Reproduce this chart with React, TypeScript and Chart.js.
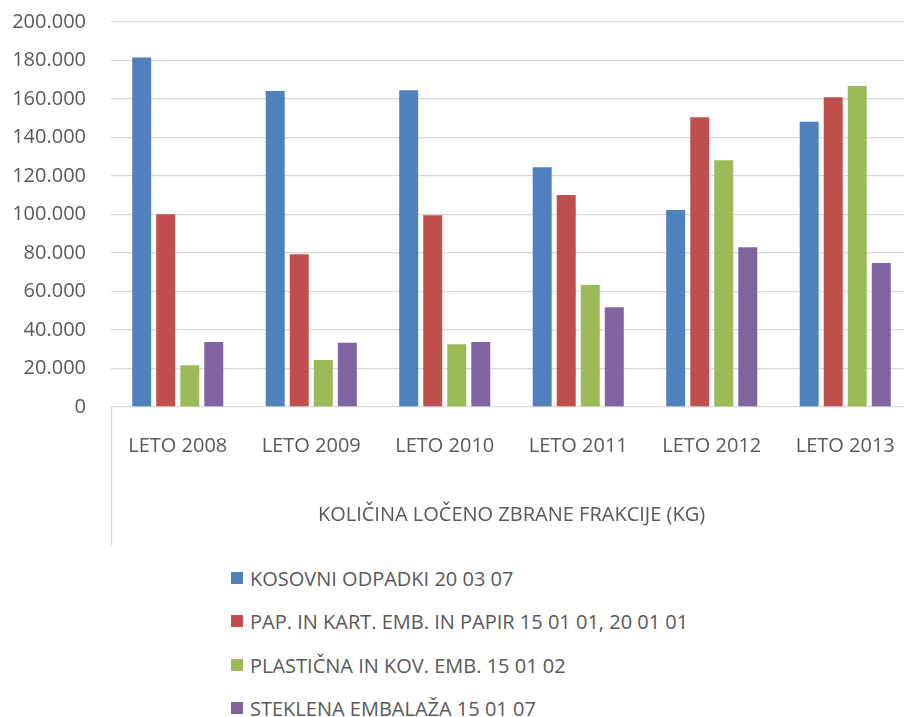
import React, { useEffect, useRef } from "react";
import { Chart, registerables } from "chart.js";

Chart.register(...registerables);

const categories = ["LETO 2008", "LETO 2009", "LETO 2010", "LETO 2011", "LETO 2012", "LETO 2013"];
const seriesNames = [
  "KOSOVNI ODPADKI 20 03 07",
  "PAP. IN KART. EMB. IN PAPIR 15 01 01, 20 01 01",
  "PLASTIČNA IN KOV. EMB. 15 01 02",
  "STEKLENA EMBALAŽA 15 01 07",
];
const kosovniOdpadki = [181500, 164200, 164500, 124500, 102300, 148200];
const papirKarton = [100100, 79300, 99600, 110100, 150500, 160900];
const plasticnaKovinska = [21700, 24400, 32600, 63400, 128200, 166800];
const steklenaEmbalaza = [33800, 33400, 33800, 51800, 83000, 74800];
const seriesColors = ["#4F81BD", "#C0504D", "#9BBB59", "#8064A2"];
const axisTitle = "KOLIČINA LOČENO ZBRANE FRAKCIJE (KG)";
const yMin = 0;
const yMax = 200000;
const yStep = 20000;

const FONT = "'Open Sans', sans-serif";
const FS = 20;
const TEXT = "#595959";

function fmt(v: number): string {
  return String(Math.round(v)).replace(/\B(?=(\d{3})+(?!\d))/g, ".");
}

const leftLinePlugin = {
  id: "leftLine",
  afterDraw(chart: any) {
    const x = chart.scales.x;
    const ctx = chart.ctx;
    ctx.save();
    ctx.strokeStyle = "#d9d9d9";
    ctx.lineWidth = 1.3;
    ctx.beginPath();
    ctx.moveTo(x.left + 0.5, chart.chartArea.bottom);
    ctx.lineTo(x.left + 0.5, x.bottom);
    ctx.stroke();
    ctx.restore();
  },
};

export default function App() {
  const ref = useRef<HTMLCanvasElement | null>(null);

  useEffect(() => {
    let chart: Chart | null = null;
    let cancelled = false;
    const make = () => {
      if (cancelled || !ref.current) return;
      const all = [kosovniOdpadki, papirKarton, plasticnaKovinska, steklenaEmbalaza];
      chart = new Chart(ref.current, {
        type: "bar",
        data: {
          labels: categories,
          datasets: all.map((d, i) => ({
            label: seriesNames[i],
            data: d,
            backgroundColor: seriesColors[i],
            borderWidth: 0,
            categoryPercentage: 0.72,
            barPercentage: 0.79,
          })),
        },
        options: {
          responsive: false,
          animation: false,
          devicePixelRatio: 1,
          layout: { padding: { top: 22, left: 0, right: 0, bottom: 0 } },
          plugins: {
            legend: { display: false },
            tooltip: { enabled: false },
          },
          scales: {
            x: {
              grid: { display: false },
              border: { display: false },
              ticks: {
                color: TEXT,
                font: { family: FONT, size: FS },
                padding: 19,
                maxRotation: 0,
                autoSkip: false,
              },
              title: {
                display: true,
                text: axisTitle,
                color: TEXT,
                font: { family: FONT, size: FS },
                padding: { top: 0, bottom: 18 },
              },
              afterFit(scale: any) {
                scale.height = 138;
                scale.paddingLeft = 0;
                scale.paddingRight = 0;
              },
            },
            y: {
              min: yMin,
              max: yMax,
              grid: { color: "#d9d9d9", lineWidth: 1.3, drawTicks: false },
              border: { display: false },
              ticks: {
                stepSize: yStep,
                color: TEXT,
                font: { family: FONT, size: FS },
                padding: 25,
                callback: (v: any) => fmt(Number(v)),
              },
              afterFit(scale: any) {
                scale.width = 111;
                scale.paddingTop = 0;
                scale.paddingBottom = 0;
              },
            },
          },
        },
        plugins: [leftLinePlugin],
      });
    };
    const fonts: any = (document as any).fonts;
    if (fonts && fonts.load) {
      fonts.load(FS + "px 'Open Sans'").then(make, make);
    } else {
      make();
    }
    return () => {
      cancelled = true;
      if (chart) chart.destroy();
    };
  }, []);

  const legendTops = [578, 621, 665, 708];

  return (
    <div style={{ position: "absolute", left: 0, top: 0, width: 904, height: 717, overflow: "hidden", background: "#fff" }}>
      <canvas ref={ref} width={912} height={545} style={{ position: "absolute", left: 0, top: 0, width: 912, height: 545 }} />
      {seriesNames.map((name, i) => (
        <div
          key={name}
          style={{
            position: "absolute",
            left: 231,
            top: legendTops[i] - 14,
            height: 28,
            display: "flex",
            alignItems: "center",
            fontFamily: FONT,
            fontSize: FS,
            color: TEXT,
            whiteSpace: "nowrap",
          }}
        >
          <span style={{ display: "inline-block", width: 12, height: 12, background: seriesColors[i], marginRight: 7 }} />
          <span>{name}</span>
        </div>
      ))}
    </div>
  );
}
